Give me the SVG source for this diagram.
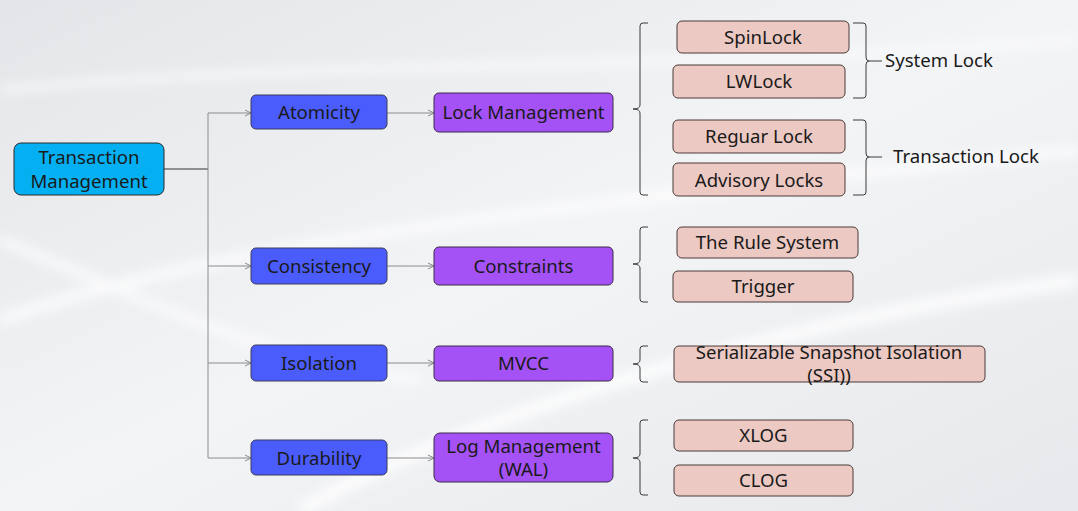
<svg xmlns="http://www.w3.org/2000/svg" width="1078" height="511" viewBox="0 0 1078 511">
<defs>
<linearGradient id="bg" x1="0" y1="0" x2="1" y2="1">
<stop offset="0" stop-color="#e3e5e8"/>
<stop offset="0.5" stop-color="#f3f4f6"/>
<stop offset="1" stop-color="#e6e8eb"/>
</linearGradient>
<filter id="blur" x="-20%" y="-200%" width="140%" height="500%"><feGaussianBlur stdDeviation="6"/></filter>
<marker id="arr" viewBox="0 0 8 8" refX="7" refY="4" markerWidth="8" markerHeight="8" markerUnits="userSpaceOnUse" orient="auto">
<path d="M1,1 L7,4 L1,7" fill="none" stroke="#8a8a8a" stroke-width="1"/>
</marker>
<style>
.t{font-family:"Noto Sans","Open Sans","Liberation Sans",sans-serif;font-size:18.6px;fill:#1a1a1a;text-anchor:middle}
.lbl{font-family:"Noto Sans","Open Sans","Liberation Sans",sans-serif;font-size:18.6px;fill:#1a1a1a}
.root{fill:#05b0f2;stroke:#2a2a2a;stroke-width:1}
.a{fill:#4b5cfd;stroke:#3a3a5a;stroke-width:1}
.p{fill:#a452f6;stroke:#3a2a4a;stroke-width:1}
.k{fill:#ecc9c3;stroke:#4a3a38;stroke-width:1}
.c{fill:none;stroke:#8c8c8c;stroke-width:1}
.br{fill:none;stroke:#3a3a3a;stroke-width:1}
</style>
</defs>
<rect width="1078" height="511" fill="url(#bg)"/>
<g opacity="0.8" filter="url(#blur)">
<path d="M0,320 C200,250 500,210 1078,150" stroke="#ffffff" stroke-width="10" fill="none"/>
<path d="M0,90 C300,60 700,70 1078,40" stroke="#ffffff" stroke-width="6" fill="none"/>
<path d="M300,510 C500,400 800,320 1078,280" stroke="#ffffff" stroke-width="14" fill="none"/>
<path d="M0,240 C150,300 260,360 420,380" stroke="#ffffff" stroke-width="8" fill="none"/>
</g>

<g id="connectors">
<path d="M164,169 H208" fill="none" stroke="#333333" stroke-width="1"/>
<path class="c" d="M208,113 V458"/>
<path class="c" d="M208,113 H251" marker-end="url(#arr)"/>
<path class="c" d="M208,266 H251" marker-end="url(#arr)"/>
<path class="c" d="M208,363 H251" marker-end="url(#arr)"/>
<path class="c" d="M208,458 H251" marker-end="url(#arr)"/>
<path class="c" d="M387,113 H434" marker-end="url(#arr)"/>
<path class="c" d="M387,266 H434" marker-end="url(#arr)"/>
<path class="c" d="M387,363 H434" marker-end="url(#arr)"/>
<path class="c" d="M387,458 H434" marker-end="url(#arr)"/>
<!-- left braces -->
<path class="br" d="M648,23 H643 Q640,23 640,26 V105 Q640,109 633,109 Q640,109 640,113 V192 Q640,195 643,195 H648"/>
<path class="br" d="M648,227 H643 Q640,227 640,230 V260 Q640,264 633,264 Q640,264 640,268 V299 Q640,302 643,302 H648"/>
<path class="br" d="M648,346 H643 Q640,346 640,349 V360 Q640,364 633,364 Q640,364 640,368 V379 Q640,382 643,382 H648"/>
<path class="br" d="M648,420 H643 Q640,420 640,423 V454 Q640,458 633,458 Q640,458 640,462 V492 Q640,495 643,495 H648"/>
<!-- right braces -->
<path class="br" d="M853,23 H863 Q866,23 866,26 V57 Q866,61 869,61 H882 M869,61 Q866,61 866,65 V95 Q866,98 863,98 H853"/>
<path class="br" d="M853,120 H863 Q866,120 866,123 V153 Q866,157 869,157 H882 M869,157 Q866,157 866,161 V192 Q866,195 863,195 H853"/>
</g>

<g id="n-root"><rect class="root" x="14" y="143" width="150" height="52" rx="7"/><text class="t" x="89" y="164">Transaction</text><text class="t" x="89" y="188">Management</text></g>
<g id="n-atomicity"><rect class="a" x="251" y="95" width="136" height="34" rx="5"/><text class="t" x="319" y="119">Atomicity</text></g>
<g id="n-consistency"><rect class="a" x="251" y="248" width="136" height="36" rx="5"/><text class="t" x="319" y="273">Consistency</text></g>
<g id="n-isolation"><rect class="a" x="251" y="345" width="136" height="36" rx="5"/><text class="t" x="319" y="370">Isolation</text></g>
<g id="n-durability"><rect class="a" x="251" y="440" width="136" height="35" rx="5"/><text class="t" x="319" y="465">Durability</text></g>

<g id="n-lock"><rect class="p" x="434" y="93" width="179" height="39" rx="5"/><text class="t" x="523.5" y="119">Lock Management</text></g>
<g id="n-constraints"><rect class="p" x="434" y="247" width="179" height="38" rx="5"/><text class="t" x="523.5" y="273">Constraints</text></g>
<g id="n-mvcc"><rect class="p" x="434" y="346" width="179" height="35" rx="5"/><text class="t" x="523.5" y="370">MVCC</text></g>
<g id="n-log"><rect class="p" x="434" y="433" width="179" height="49" rx="6"/><text class="t" x="523.5" y="453">Log Management</text><text class="t" x="523.5" y="476">(WAL)</text></g>

<g id="n-spinlock"><rect class="k" x="677" y="21" width="172" height="32" rx="5"/><text class="t" x="763" y="44">SpinLock</text></g>
<g id="n-lwlock"><rect class="k" x="673" y="65" width="172" height="33" rx="5"/><text class="t" x="759" y="88">LWLock</text></g>
<g id="n-reguar"><rect class="k" x="673" y="120" width="172" height="33" rx="5"/><text class="t" x="759" y="143">Reguar Lock</text></g>
<g id="n-advisory"><rect class="k" x="673" y="163" width="172" height="33" rx="5"/><text class="t" x="759" y="187">Advisory Locks</text></g>
<g id="n-rule"><rect class="k" x="677" y="227" width="181" height="31" rx="5"/><text class="t" x="767.5" y="249">The Rule System</text></g>
<g id="n-trigger"><rect class="k" x="673" y="271" width="180" height="31" rx="5"/><text class="t" x="763" y="293">Trigger</text></g>
<g id="n-ssi"><rect class="k" x="674" y="346" width="311" height="36" rx="5"/><text class="t" x="829" y="359">Serializable Snapshot Isolation</text><text class="t" x="829" y="382">(SSI))</text></g>
<g id="n-xlog"><rect class="k" x="674" y="420" width="179" height="31" rx="5"/><text class="t" x="763.5" y="442">XLOG</text></g>
<g id="n-clog"><rect class="k" x="674" y="465" width="179" height="31" rx="5"/><text class="t" x="763.5" y="487">CLOG</text></g>

<g id="labels">
<text class="lbl" x="885" y="67">System Lock</text>
<text class="lbl" x="893" y="163">Transaction Lock</text>
</g>
</svg>
